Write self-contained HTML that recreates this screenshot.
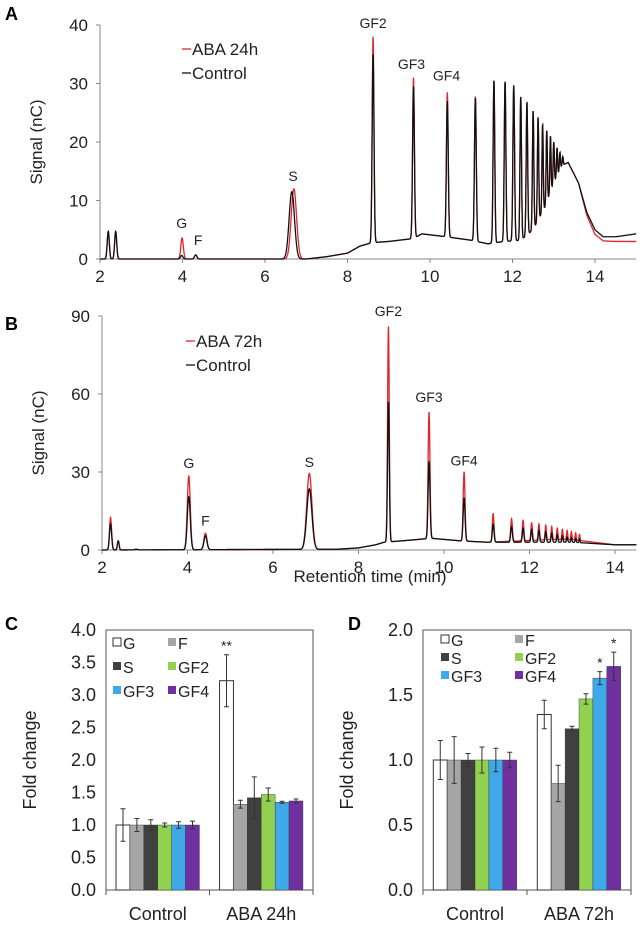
<!DOCTYPE html>
<html><head><meta charset="utf-8"><style>
body{margin:0;background:#fff;}
svg{display:block;font-family:"Liberation Sans",Arial,sans-serif;}
</style></head><body>
<svg id="fig" width="642" height="930" viewBox="0 0 642 930"></svg>
<script>
// ---------- data ----------
const aCtrlPeaks=[[2.2,4.7,0.025],[2.38,4.7,0.025],[3.98,0.6,0.03],[4.32,0.7,0.03],[6.65,11.5,0.065],[8.62,35,0.022],[9.6,29.5,0.022],[10.42,27,0.022],[11.1,27.5,0.022],[11.55,30.5,0.02],[11.82,30.3,0.02],[12.03,29.7,0.02],[12.2,27.7,0.018],[12.35,26.8,0.018],[12.5,25.3,0.017],[12.62,24.2,0.016],[12.73,23,0.015],[12.83,22,0.015],[12.92,21,0.014],[13.0,20,0.014],[13.08,19,0.013],[13.15,18.2,0.013],[13.22,17.5,0.012]];
const aAbaPeaks=[[2.2,4.7,0.025],[2.38,4.7,0.025],[3.99,3.6,0.03],[4.32,0.7,0.03],[6.7,12,0.065],[8.62,38,0.022],[9.6,31,0.022],[10.42,28.5,0.022],[11.1,27.8,0.022],[11.55,30.5,0.02],[11.82,30.3,0.02],[12.03,29.7,0.02],[12.2,27.7,0.018],[12.35,26.8,0.018],[12.5,25.3,0.017],[12.62,24.2,0.016],[12.73,23,0.015],[12.83,22,0.015],[12.92,21,0.014],[13.0,20,0.014],[13.08,19,0.013],[13.15,18.2,0.013],[13.22,17.5,0.012]];
const aCtrlBase=[[2,0],[7,0],[7.5,0.4],[8,1],[8.3,2.2],[8.6,2.8],[9,3],[9.6,3.5],[9.8,4.3],[10.4,3.8],[11,3.2],[11.4,2.6],[11.8,3],[12.2,3.2],[12.5,5],[12.8,9],[13.0,13],[13.2,16],[13.35,16.5],[13.6,13],[13.8,8],[14.0,5],[14.2,3.8],[14.5,3.8],[15,4.3]];
const aAbaBase=[[2,0],[7,0],[7.5,0.4],[8,1],[8.3,2.2],[8.6,2.8],[9,3],[9.6,3.5],[9.8,4.3],[10.4,3.8],[11,3.2],[11.4,2.6],[11.8,3],[12.2,3.2],[12.5,5],[12.8,9],[13.0,13],[13.2,16],[13.35,16.5],[13.6,13],[13.8,7.5],[14.0,4.2],[14.2,3.1],[14.5,3],[15,3]];
const bCtrlPeaks=[[2.2,10,0.025],[2.38,3.5,0.02],[2.8,0.3,0.03],[4.03,20.5,0.035],[4.42,5.5,0.035],[6.85,23.5,0.06],[8.7,57,0.02],[9.65,34,0.022],[10.47,20,0.022],[11.15,10,0.02],[11.58,9,0.02],[11.85,8.5,0.018],[12.05,8,0.017],[12.22,7.5,0.016],[12.38,7,0.015],[12.52,6.5,0.015],[12.65,6,0.014],[12.77,5.5,0.013],[12.88,5,0.013],[12.98,4.8,0.012],[13.08,4.5,0.012],[13.17,4.3,0.011]];
const bAbaPeaks=[[2.2,12.5,0.025],[2.38,3.5,0.02],[2.8,0.3,0.03],[4.03,28.5,0.035],[4.42,6.5,0.035],[6.85,29.5,0.06],[8.7,86,0.02],[9.65,53,0.022],[10.47,30,0.022],[11.15,14,0.02],[11.58,12,0.02],[11.85,11.5,0.018],[12.05,10.5,0.017],[12.22,10,0.016],[12.38,9.5,0.015],[12.52,9,0.015],[12.65,8.5,0.014],[12.77,8,0.013],[12.88,7.5,0.013],[12.98,7,0.012],[13.08,6.5,0.012],[13.17,6,0.011]];
const bCtrlBase=[[2,0],[7.5,0.3],[8,0.8],[8.4,2],[8.6,3],[9,3.5],[9.7,4.5],[10.4,3.5],[11,3],[12.5,3],[13,3],[13.5,2.5],[14,2],[14.5,2]];
const bAbaBase=[[2,0],[7.5,0.3],[8,0.8],[8.4,2],[8.6,3],[9,3.5],[9.7,4.5],[10.4,3.5],[11,3],[12.5,4],[13,4],[13.5,3],[14,2],[14.5,2]];
const xTicks=[2,4,6,8,10,12,14];
const aYTicks=[0,10,20,30,40];
const bYTicks=[0,30,60,90];
const compounds=["G","F","S","GF2","GF3","GF4"];
const cGroups=["Control","ABA 24h"];
const cCtrl=[1,1,1,1,1,1], cCtrlErr=[0.25,0.1,0.08,0.03,0.05,0.06];
const cAba=[3.22,1.32,1.42,1.47,1.35,1.37], cAbaErr=[0.4,0.06,0.32,0.1,0.015,0.03];
const cStars=["**","","","","",""];
const dGroups=["Control","ABA 72h"];
const dCtrl=[1,1,1,1,1,1], dCtrlErr=[0.15,0.18,0.05,0.1,0.09,0.06];
const dAba=[1.35,0.82,1.24,1.47,1.63,1.72], dAbaErr=[0.11,0.14,0.02,0.04,0.05,0.11];
const dStars=["","","","","*","*"];
const cYTicks=[0,0.5,1,1.5,2,2.5,3,3.5,4];
const dYTicks=[0,0.5,1,1.5,2];
const colors=["#ffffff","#a6a6a6","#404040","#92d050","#3fa8e8","#7030a0"];

// ---------- helpers ----------
const NS="http://www.w3.org/2000/svg";
const svg=document.getElementById("fig");
function mk(tag,attrs,parent){const e=document.createElementNS(NS,tag);for(const k in attrs)e.setAttribute(k,attrs[k]);(parent||svg).appendChild(e);return e;}
function txt(s,x,y,size,anchor,parent,extra){const t=mk("text",Object.assign({x:x,y:y,"font-size":size,"text-anchor":anchor||"middle",fill:"#222"},extra||{}),parent);t.textContent=s;return t;}
function interp(base,t){for(let i=0;i<base.length-1;i++){if(t<=base[i+1][0]){const f=(t-base[i][0])/(base[i+1][0]-base[i][0]);return base[i][1]+f*(base[i+1][1]-base[i][1]);}}return base[base.length-1][1];}
function signal(peaks,base,t){let v=interp(base,t);for(const p of peaks){const amp=p[1]-interp(base,p[0]);const d=(t-p[0])/p[2];if(Math.abs(d)<6)v+=amp*Math.exp(-0.5*d*d);}return v;}

function chrom(cfg){
  const g=mk("g",{});
  
  
  const X=t=>cfg.x0+(t-2)*cfg.px2/2;
  const Y=v=>cfg.y0-v*cfg.pyu;
  const ax=mk("path",{d:`M${X(2)},${Y(cfg.ymax)}V${Y(0)}H${X(cfg.tmax)}`,stroke:"#888",fill:"none","stroke-width":1},g);
  
  
  for(const t of xTicks){mk("line",{x1:X(t),x2:X(t),y1:Y(0),y2:Y(0)+4,stroke:"#888"},g);const l=txt(String(t),X(t),Y(0)+23,17,"middle",g);}
  for(const v of cfg.yticks){mk("line",{x1:X(2)-4,x2:X(2),y1:Y(v),y2:Y(v),stroke:"#888"},g);const l=txt(String(v),X(2)-12,Y(v)+6,17,"end",g);}
  const yt=txt("Signal (nC)",0,0,17,"middle",g,{transform:`translate(${cfg.x0-58},${(Y(0)+Y(cfg.ymax))/2}) rotate(-90)`});
  
  for(const s of [{p:cfg.aba,b:cfg.abaBase,c:"#e0262b",n:"aba-trace"},{p:cfg.ctrl,b:cfg.ctrlBase,c:"#111",n:"control-trace"}]){
    let d="";for(let t=2;t<=cfg.tmax+1e-9;t+=0.004){d+=(d?"L":"M")+X(t).toFixed(2)+","+Y(signal(s.p,s.b,t)).toFixed(2);}
    const p=mk("path",{d:d,stroke:s.c,fill:"none","stroke-width":1.3},g);
    
  }
  const lg=mk("g",{},g);
  mk("line",{x1:cfg.lx,x2:cfg.lx+9,y1:cfg.ly,y2:cfg.ly,stroke:"#e0262b","stroke-width":1.3},lg);
  txt(cfg.abaLabel,cfg.lx+10,cfg.ly+6,17,"start",lg);
  mk("line",{x1:cfg.lx,x2:cfg.lx+9,y1:cfg.ly+24,y2:cfg.ly+24,stroke:"#111","stroke-width":1.3},lg);
  txt("Control",cfg.lx+10,cfg.ly+30,17,"start",lg);
  for(const a of cfg.ann){const l=txt(a[0],X(a[1]),Y(a[2]),14,"middle",g);}
  const pl=txt(cfg.letter,5,cfg.letterY,18,"start",g,{"font-weight":"bold",fill:"#000"});
  
}
chrom({name:"chromatogram-a",x0:100,px2:82.5,y0:259,pyu:5.85,ymax:40,tmax:15,yticks:aYTicks,ctrl:aCtrlPeaks,aba:aAbaPeaks,ctrlBase:aCtrlBase,abaBase:aAbaBase,lx:182,ly:49,abaLabel:"ABA 24h",letter:"A",letterY:20,
  ann:[["G",3.98,5.3],["F",4.38,2.4],["S",6.68,13.3],["GF2",8.62,39.5],["GF3",9.55,32.5],["GF4",10.4,30.5]]});
chrom({name:"chromatogram-b",x0:102,px2:85.5,y0:550,pyu:2.6,ymax:90,tmax:14.5,yticks:bYTicks,ctrl:bCtrlPeaks,aba:bAbaPeaks,ctrlBase:bCtrlBase,abaBase:bAbaBase,lx:186,ly:341,abaLabel:"ABA 72h",letter:"B",letterY:330,
  ann:[["G",4.03,31.5],["F",4.42,9.5],["S",6.85,32],["GF2",8.7,90],["GF3",9.65,57],["GF4",10.47,32.5]]});
const rt=txt("Retention time (min)",370,582,17,"middle");


function bars(cfg){
  const g=mk("g",{});
  
  const Y=v=>cfg.y0-v*cfg.pyu;
  const box=mk("rect",{x:cfg.left,y:Y(cfg.ymax),width:cfg.right-cfg.left,height:cfg.y0-Y(cfg.ymax),fill:"none",stroke:"#555"},g);
  
  const mid=(cfg.left+cfg.right)/2;
  for(const x of [cfg.left,mid,cfg.right])mk("line",{x1:x,x2:x,y1:cfg.y0,y2:cfg.y0+5,stroke:"#555"},g);
  for(const v of cfg.yticks){const l=txt(v.toFixed(1),cfg.left-10,Y(v)+6,18,"end",g);}
  const yt=txt("Fold change",0,0,18,"middle",g,{transform:`translate(${cfg.left-70},${(cfg.y0+Y(cfg.ymax))/2}) rotate(-90)`});
  
  const gw=(cfg.right-cfg.left)/2, bw=13.9;
  const sets=[[cfg.ctrl,cfg.ctrlErr,[]],[cfg.aba,cfg.abaErr,cfg.stars]];
  sets.forEach((s,gi)=>{
    const start=cfg.left+gi*gw+(gw-bw*6)/2;
    const gl=txt(cfg.groups[gi],cfg.left+gi*gw+gw/2,cfg.y0+30,18,"middle",g);
    
    s[0].forEach((v,i)=>{
      const x=start+i*bw;
      const r=mk("rect",{x:x,y:Y(v),width:bw,height:cfg.y0-Y(v),fill:colors[i],stroke:"#333","stroke-width":i===0?1:0.4},g);
      
      
      const e=s[1][i],cx=x+bw/2;
      const eb=mk("path",{d:`M${cx},${Y(v+e)}V${Y(v-e)}M${cx-2.5},${Y(v+e)}h5M${cx-2.5},${Y(v-e)}h5`,stroke:"#333","stroke-width":1,fill:"none"},g);
      
      if(s[2][i]){const st=txt(s[2][i],cx,Y(v+e)-4,14,"middle",g);}
    });
  });
  const lg=mk("g",{},g);
  compounds.forEach((c,i)=>{
    const col=i%2,row=Math.floor(i/2);
    const x=cfg.lx+col*cfg.lcol,y=cfg.ly+row*cfg.lrow;
    mk("rect",{x:x,y:y-5,width:8,height:8,fill:colors[i],stroke:i===0?"#333":"none"},lg);
    txt(c,x+10,y+6,16,"start",lg);
  });
  const pl=txt(cfg.letter,cfg.letterX,630,18,"start",g,{"font-weight":"bold",fill:"#000"});
  
}
bars({name:"bar-chart-c",left:106,right:313,y0:890,pyu:65,ymax:4,yticks:cYTicks,groups:cGroups,ctrl:cCtrl,ctrlErr:cCtrlErr,aba:cAba,abaErr:cAbaErr,stars:cStars,lx:113,ly:643,lcol:55,lrow:24,letter:"C",letterX:5});
bars({name:"bar-chart-d",left:423,right:631,y0:890,pyu:130,ymax:2,yticks:dYTicks,groups:dGroups,ctrl:dCtrl,ctrlErr:dCtrlErr,aba:dAba,abaErr:dAbaErr,stars:dStars,lx:441,ly:640,lcol:74,lrow:18,letter:"D",letterX:348});
</script>
</body></html>
